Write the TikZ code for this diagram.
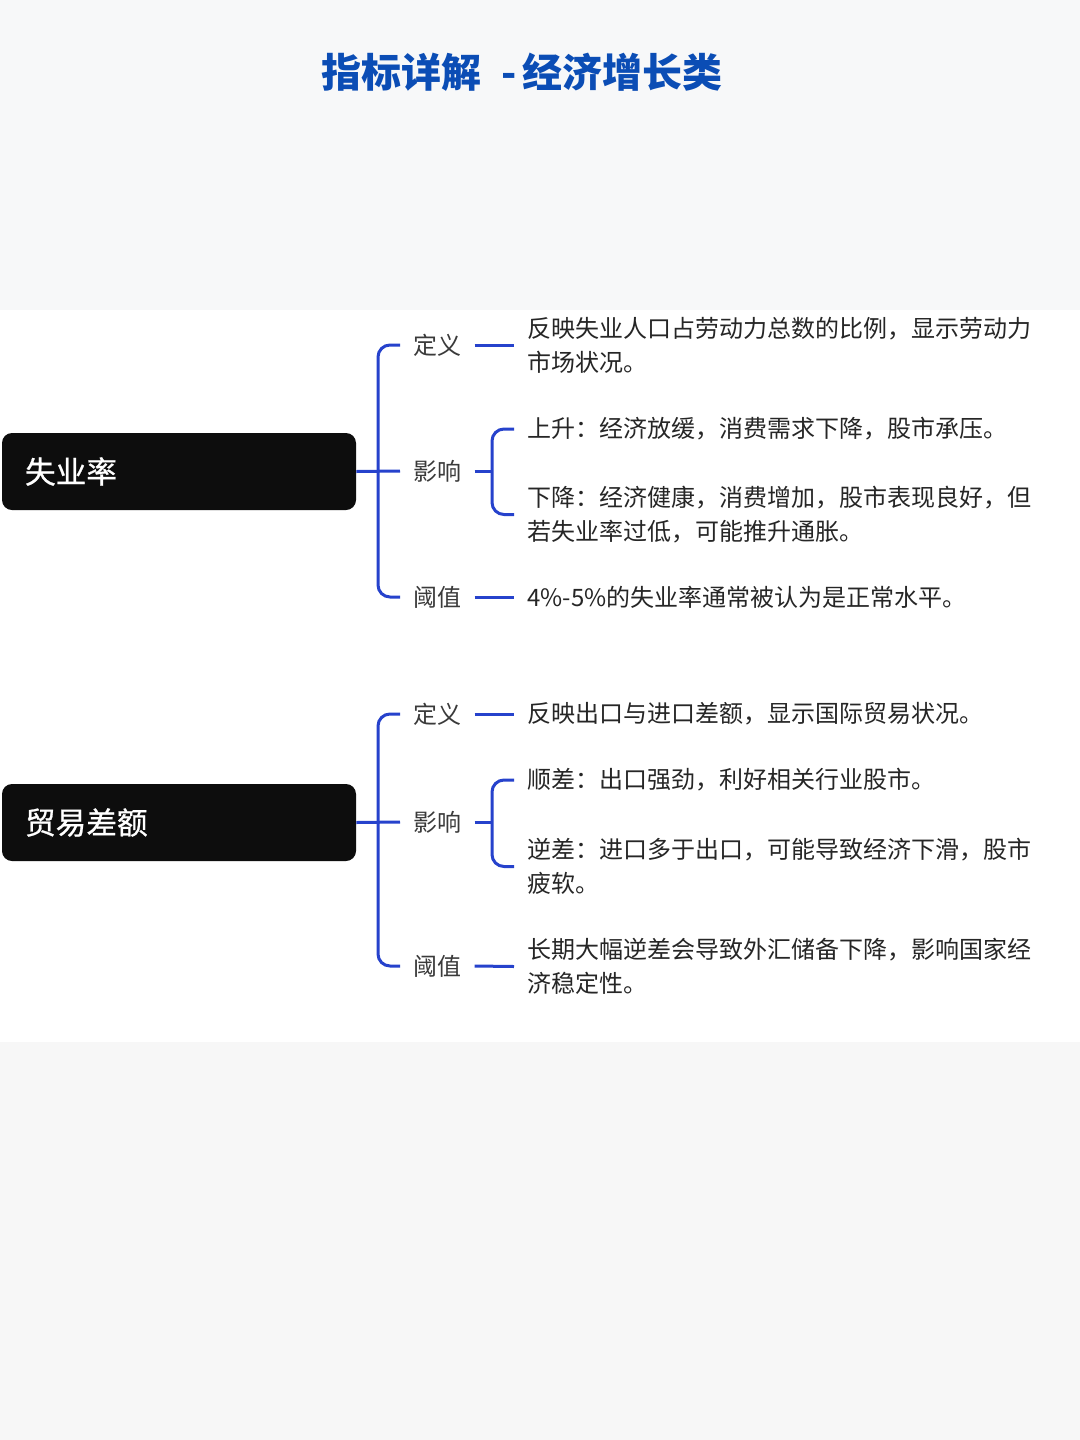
\documentclass[tikz,border=0pt]{standalone}
\usepackage{fontspec}
\setmainfont{Noto Sans CJK SC}
\newfontfamily\boxfont[FakeBold=0.8]{Noto Sans CJK SC}
\definecolor{bgtop}{HTML}{F7F8F9}
\definecolor{bgbot}{HTML}{F7F7F7}
\definecolor{titleblue}{HTML}{0B4DB5}
\definecolor{lineblue}{HTML}{2642CC}
\definecolor{boxblack}{HTML}{0D0D0D}
\definecolor{labelgray}{HTML}{3A3A3A}
\definecolor{bodytext}{HTML}{262626}
\tikzset{
  conn/.style={draw=lineblue, line width=2.25pt, rounded corners=9pt},
  rootbox/.style={fill=boxblack, rounded corners=7.5pt, minimum width=265.5pt, minimum height=57.75pt,
    text width=231pt, inner xsep=17.25pt, align=left, text=white, font=\boxfont\fontsize{23}{28}\selectfont},
  lbl/.style={anchor=west, inner xsep=9.75pt, inner ysep=2pt, text=labelgray, font=\fontsize{18}{24}\selectfont},
  leaf/.style={anchor=west, inner xsep=9.75pt, inner ysep=0pt, align=left, text=bodytext, font=\fontsize{18}{25.5}\selectfont},
}
\begin{document}
\begin{tikzpicture}[x=0.75pt,y=-0.75pt]
% backgrounds
\fill[bgtop] (0,0) rectangle (1080,310);
\fill[white] (0,310) rectangle (1080,1042);
\fill[bgbot] (0,1042) rectangle (1080,1440);
\useasboundingbox (0,0) rectangle (1080,1440);

% title
\node[text=titleblue, font=\fontsize{30}{36}\selectfont\bfseries] (title) at (522,72)
  {指标详解\hspace{15pt}-\hspace{5pt}经济增长类};

% ---------- section 1 ----------
\node[rootbox] (r1) at (179,471.5) {失业率};
\node[lbl] (d1) at (400,345) {定义};
\node[lbl] (i1) at (400,471) {影响};
\node[lbl] (t1) at (400,597) {阈值};
\node[leaf] (d1t) at (514,345) {反映失业人口占劳动力总数的比例，显示劳动力\\市场状况。};
\node[leaf] (u1t) at (514,429) {上升：经济放缓，消费需求下降，股市承压。};
\node[leaf] (w1t) at (514,514.5) {下降：经济健康，消费增加，股市表现良好，但\\若失业率过低，可能推升通胀。};
\node[leaf] (t1t) at (514,597) {4\%-5\%的失业率通常被认为是正常水平。};

\coordinate (k1) at (378,471);
\coordinate (s1) at (492,471);
\draw[conn] (d1.west) -| (k1) |- (t1.west);
\draw[conn] (r1.east) -- (i1.west);
\draw[conn] (d1.east) -- (d1t.west);
\draw[conn] (t1.east) -- (t1t.west);
\draw[conn] (i1.east) -- (s1);
\draw[conn] (u1t.west) -| (s1) |- (w1t.west);

% ---------- section 2 ----------
\node[rootbox] (r2) at (179,822.5) {贸易差额};
\node[lbl] (d2) at (400,714) {定义};
\node[lbl] (i2) at (400,822) {影响};
\node[lbl] (t2) at (400,966) {阈值};
\node[leaf] (d2t) at (514,714) {反映出口与进口差额，显示国际贸易状况。};
\node[leaf] (u2t) at (514,780) {顺差：出口强劲，利好相关行业股市。};
\node[leaf] (w2t) at (514,866.5) {逆差：进口多于出口，可能导致经济下滑，股市\\疲软。};
\node[leaf] (t2t) at (514,966.5) {长期大幅逆差会导致外汇储备下降，影响国家经\\济稳定性。};

\coordinate (k2) at (378,822);
\coordinate (s2) at (492,822);
\draw[conn] (d2.west) -| (k2) |- (t2.west);
\draw[conn] (r2.east) -- (i2.west);
\draw[conn] (d2.east) -- (d2t.west);
\draw[conn] (t2.east) -- (t2t.west);
\draw[conn] (i2.east) -- (s2);
\draw[conn] (u2t.west) -| (s2) |- (w2t.west);
\end{tikzpicture}
\end{document}
